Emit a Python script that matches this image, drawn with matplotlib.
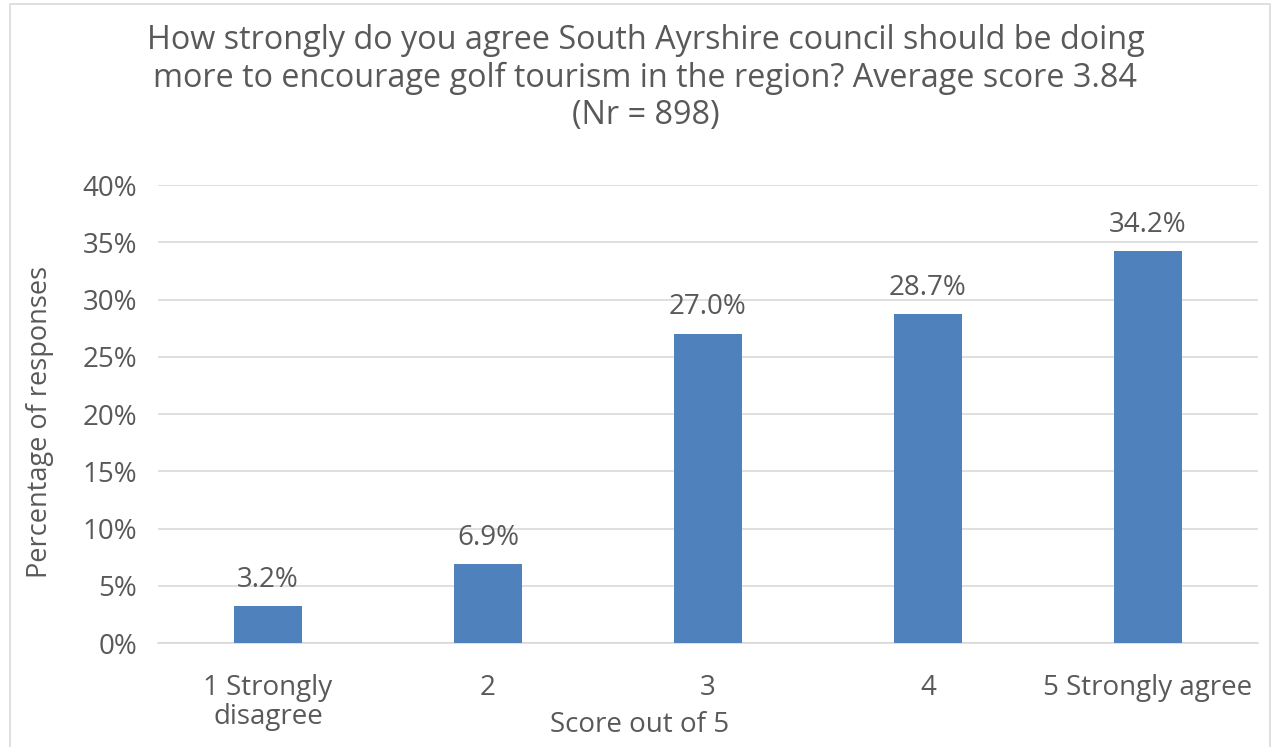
import matplotlib.pyplot as plt
from matplotlib.patches import Rectangle
from matplotlib.ticker import FuncFormatter

# Survey scores and share of responses (%)
categories = ['1 Strongly\ndisagree', '2', '3', '4', '5 Strongly agree']
percentages = [3.2, 6.9, 27.0, 28.7, 34.2]

title = ('How strongly do you agree South Ayrshire council should be doing\n'
         'more to encourage golf tourism in the region? Average score 3.84\n'
         '(Nr = 898)')

text_color = '#595959'
bar_color = '#4F81BD'

plt.rcParams['font.family'] = ['Open Sans', 'DejaVu Sans']

fig = plt.figure(figsize=(12.78, 7.47), dpi=100)
ax = fig.add_axes([0.1236, 0.1392, 0.8606, 0.6131])

x = range(len(categories))
bars = ax.bar(x, percentages, width=0.31, color=bar_color, zorder=3)

for rect, val in zip(bars, percentages):
    ax.annotate(f'{val:.1f}%', (rect.get_x() + rect.get_width() / 2, rect.get_height()),
                xytext=(0, 9), textcoords='offset points', ha='center', va='bottom',
                fontsize=20, color=text_color)

ax.set_xlim(-0.5, len(categories) - 0.5)
ax.set_ylim(0, 40)
ax.set_yticks(range(0, 41, 5))
ax.yaxis.set_major_formatter(FuncFormatter(lambda v, _: f'{v:.0f}%'))
ax.set_xticks(list(x))
ax.set_xticklabels(categories, linespacing=1.05)
ax.tick_params(axis='both', length=0, labelsize=20, labelcolor=text_color)
ax.tick_params(axis='x', pad=22)
ax.tick_params(axis='y', pad=15)

ax.grid(axis='y', color='#D9D9D9', linewidth=1.2, zorder=0)
for side in ['top', 'right', 'left']:
    ax.spines[side].set_visible(False)
ax.spines['bottom'].set_color('#D9D9D9')
ax.spines['bottom'].set_linewidth(1.2)

fig.text(0.0313, 0.4357, 'Percentage of responses', rotation=90, ha='center', va='center',
         fontsize=19.5, color=text_color)
fig.text(0.5008, 0.0295, 'Score out of 5', ha='center', va='center',
         fontsize=20, color=text_color)

fig.text(0.505, 0.968, title, ha='center', va='top', fontsize=23.3,
         color=text_color, linespacing=1.18)

# light frame around the chart
fig.patches.append(Rectangle((0.008, -0.01), 0.986, 1.005, transform=fig.transFigure,
                             fill=False, edgecolor='#D9D9D9', linewidth=1.2))

fig.savefig('out.png', dpi=100)
